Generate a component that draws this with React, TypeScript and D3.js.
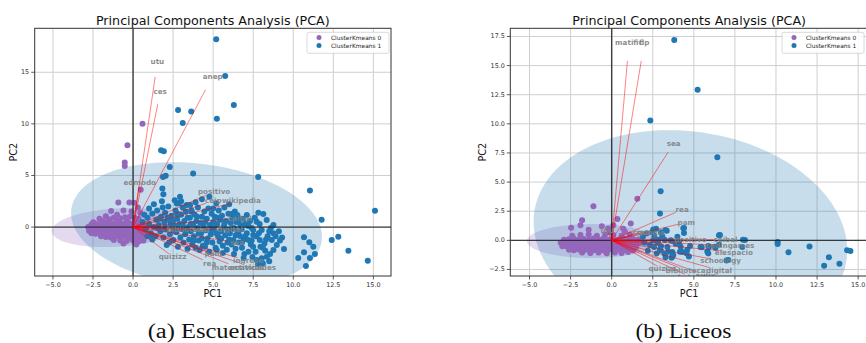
import React from 'react';
import * as d3 from 'd3';

type P = [number, number];

const clusterNames = ['ClusterKmeans 0', 'ClusterKmeans 1'];
const xTicks = [-5, -2.5, 0, 2.5, 5, 7.5, 10, 12.5, 15];
const yTicksEscuelas = [0, 5, 10, 15];
const yTicksLiceos = [-2.5, 0, 2.5, 5, 7.5, 10, 12.5, 15, 17.5];

// Escuelas, cluster 0 (purple)
const escuelasC0: P[] = [
  [-0.52, 6.25], [-0.52, 5.92], [-0.35, 7.94], [0.59, 10.0], [0.48, 3.62], [-0.92, 2.39], [-0.23, 2.39],
  [0.06, 2.35], [-1.37, 1.55], [-2.48, 0.46], [-2.68, -0.22], [0.3, 1.9], [-0.6, 1.6], [-1.0, 1.2],
  [-1.7, 1.05], [0.45, 1.4], [-0.1, 1.5], [-2.1, 0.8],
  [-1.9, 0.6], [-1.5, 0.75], [-1.2, 0.9], [-0.8, 0.85], [-0.5, 0.95], [-0.2, 1.0], [0.1, 0.9], [0.35, 0.8],
  [-1.0, 0.6], [-0.4, 0.6], [0.2, 0.55], [-1.6, 0.5],
  [-2.6, 0.25], [-2.3, 0.3], [-2.0, 0.35], [-1.7, 0.3], [-1.4, 0.4], [-1.1, 0.35], [-0.8, 0.4], [-0.55, 0.3],
  [-0.3, 0.45], [0.0, 0.35], [0.3, 0.3], [0.55, 0.4],
  [-2.8, 0.0], [-2.55, -0.05], [-2.3, 0.05], [-2.05, -0.02], [-1.8, 0.08], [-1.55, 0.0], [-1.3, 0.1],
  [-1.05, -0.05], [-0.8, 0.05], [-0.55, 0.0], [-0.3, 0.1], [-0.05, -0.05], [0.2, 0.05], [0.45, 0.0], [0.7, 0.1],
  [-2.75, -0.35], [-2.5, -0.3], [-2.25, -0.38], [-2.0, -0.3], [-1.75, -0.4], [-1.5, -0.3], [-1.25, -0.35],
  [-1.0, -0.28], [-0.75, -0.4], [-0.5, -0.3], [-0.25, -0.35], [0.0, -0.3], [0.25, -0.4], [0.5, -0.3], [0.75, -0.35],
  [-2.6, -0.6], [-2.35, -0.65], [-2.1, -0.58], [-1.85, -0.68], [-1.6, -0.6], [-1.35, -0.7], [-1.1, -0.62],
  [-0.85, -0.7], [-0.6, -0.6], [-0.35, -0.7], [-0.1, -0.62], [0.15, -0.7], [0.4, -0.6], [0.65, -0.7],
  [-2.0, -0.9], [-1.7, -0.95], [-1.4, -1.0], [-1.1, -0.92], [-0.8, -1.0], [-0.5, -0.95], [-0.2, -1.05],
  [0.1, -0.95], [0.4, -1.05], [0.7, -0.95],
  [-1.2, -1.25], [-0.8, -1.3], [-0.4, -1.35], [0.0, -1.3], [0.35, -1.4], [0.65, -1.3], [-0.6, -1.6], [0.2, -1.7],
];

// Escuelas, cluster 1 (blue)
const escuelasC1: P[] = [
  [5.19, 18.19], [5.75, 14.65], [6.29, 11.83], [2.81, 11.34], [3.63, 11.2], [3.1, 10.08], [5.23, 10.5],
  [1.75, 7.45], [1.92, 7.35], [2.29, 5.82], [3.75, 5.18], [7.81, 4.85], [11.04, 3.55], [11.77, 0.7],
  [15.1, 1.58], [14.65, -3.26], [13.44, -2.29], [12.81, -0.93], [12.4, -1.25], [11.04, -3.0], [11.35, -2.6],
  [11.25, -1.9], [11.0, -1.48], [10.67, -0.99], [10.67, -2.45], [10.31, -3.0], [10.79, -3.78], [9.42, -2.12],
  [9.17, -1.31], [1.83, 3.75], [1.89, 3.19], [2.04, 4.98], [1.87, 4.85], [2.93, 2.93], [2.73, 2.29],
  [3.56, 2.13], [3.66, 1.48], [4.76, 2.95],
  [0.6, 0.5], [0.8, -0.2], [0.9, 0.9], [1.0, 0.3], [1.1, -0.6], [1.2, 1.3], [1.3, 0.0], [1.4, -0.9], [1.45, 0.7],
  [0.7, 1.2], [1.0, 1.8], [1.3, 2.2], [1.5, 1.6], [0.9, -0.9], [1.2, -1.2], [1.17, -0.77],
  [1.6, 0.2], [1.7, -0.4], [1.75, 1.0], [1.8, 2.5], [1.9, -1.0], [1.95, 0.5], [2.0, 1.4], [2.05, -0.2],
  [2.1, -1.74], [2.15, 0.9], [2.2, 2.0], [2.3, -0.7], [2.35, 0.3], [2.4, 1.1], [2.45, -1.3], [2.5, 0.6],
  [1.85, 1.9], [2.25, -1.5],
  [2.52, -1.26], [2.6, 0.1], [2.65, 1.6], [2.7, -0.5], [2.75, 0.8], [2.8, -1.9], [2.85, 2.3], [2.9, 0.3],
  [2.95, -1.0], [3.0, 1.2], [3.05, -0.2], [3.1, 1.9], [3.15, -1.5], [3.2, 0.6], [3.25, -0.7], [3.3, 1.5],
  [3.35, 2.13], [3.4, -2.1], [3.45, 0.0], [3.5, -1.2], [2.6, 2.6], [3.0, 2.5],
  [3.55, 0.9], [3.6, -0.4], [3.65, 1.6], [3.7, -1.7], [3.75, 0.3], [3.8, -0.9], [3.85, 1.2], [3.9, -2.0],
  [3.95, 0.6], [4.0, -0.1], [4.05, 1.9], [4.1, -1.3], [4.16, -2.23], [4.2, 0.4], [4.25, -0.6], [4.3, 1.0],
  [4.35, -1.8], [4.4, 0.1], [4.45, 1.5], [4.49, -1.9], [3.9, 2.4], [4.3, 2.7],
  [4.55, -0.3], [4.6, 0.8], [4.65, -1.1], [4.7, 1.8], [4.75, -2.4], [4.8, 0.2], [4.85, -0.7], [4.9, 1.3],
  [4.95, -1.5], [5.0, 0.5], [5.05, -0.1], [5.1, 1.0], [5.15, -2.0], [5.22, -2.23], [5.25, 0.3], [5.3, -0.9],
  [5.35, 1.6], [5.4, -1.4], [5.45, 0.7], [5.5, -0.4], [5.2, 2.3],
  [5.55, 1.1], [5.6, -1.8], [5.65, 0.0], [5.7, 1.9], [5.75, -0.8], [5.8, 0.6], [5.85, -2.2], [5.9, -0.3],
  [5.95, 1.3], [6.0, -1.2], [6.04, -0.61], [6.1, 0.4], [6.15, -1.7], [6.2, 0.9], [6.26, -1.26], [6.3, -0.1],
  [6.35, 1.5], [6.4, -2.1], [6.45, 0.5], [6.51, 1.16], [6.0, 2.2],
  [6.55, -0.5], [6.6, -1.5], [6.67, -0.87], [6.7, 0.2], [6.78, -0.22], [6.8, -2.0], [6.85, 0.8], [6.9, -1.2],
  [6.95, -2.6], [7.0, 0.3], [7.1, 1.16], [7.1, -0.6], [7.2, -1.26], [7.2, -2.39], [7.3, 0.6], [7.35, -1.7],
  [7.4, -0.1], [7.45, -2.9], [7.5, -0.29], [7.5, -0.77], [7.5, -1.9],
  [7.6, 0.9], [7.65, -2.4], [7.72, 0.51], [7.72, -3.19], [7.82, 1.38], [7.85, -0.6], [7.91, -1.26],
  [7.95, -1.9], [8.03, -0.29], [8.03, -3.03], [8.13, 1.26], [8.2, -1.6], [8.25, -2.3], [8.34, 0.68],
  [8.35, -2.87], [8.4, -0.9], [8.55, -2.61], [8.6, -0.1], [8.66, -1.26], [8.76, 0.19], [8.76, -0.61],
  [8.76, -2.23], [8.97, -1.74], [9.1, -0.4], [9.3, -1.0], [8.5, -3.3], [8.1, -3.5], [7.8, -3.6],
  [1.55, -0.1], [1.65, 0.8], [2.0, 0.0], [2.2, 0.7], [2.55, -0.3], [2.75, 1.3], [3.1, 0.2], [3.3, -0.4],
  [3.4, 0.9], [3.6, 0.3], [3.8, -1.3], [4.0, 1.0], [4.1, -0.6], [4.3, -1.1], [4.5, 0.5], [4.6, -1.5],
  [4.9, -0.3], [5.0, 1.8], [5.2, -0.6], [5.3, 0.9], [5.5, -1.1], [5.7, 0.3], [5.9, -1.5], [6.1, -0.2],
  [6.2, 1.3], [6.4, -0.8], [6.6, 0.7], [6.8, -1.5], [7.0, -0.9], [7.2, 0.1], [7.4, -1.3], [7.7, -0.9],
  [7.9, 0.3], [8.1, -2.0], [8.3, -1.2], [8.5, -0.4], [8.9, -0.9], [6.9, -3.0], [6.3, -2.6], [5.6, -2.5],
];

// Liceos, cluster 0 (purple)
const liceosC0: P[] = [
  [-1.11, 2.93], [-1.8, 1.72], [-1.9, 1.29], [-2.47, 1.09], [1.56, 3.56], [0.35, 1.84], [1.16, 1.44],
  [-0.22, 1.01], [-0.6, 1.2], [0.7, 1.0], [-1.4, 0.9], [0.1, 1.3],
  [-2.4, 0.4], [-1.9, 0.45], [-1.4, 0.5], [-0.9, 0.4], [-0.4, 0.5], [0.1, 0.45], [0.6, 0.4], [1.1, 0.5],
  [-0.1, 0.7], [0.8, 0.75],
  [-2.9, 0.05], [-2.6, 0.1], [-2.3, 0.15], [-2.0, 0.05], [-1.7, 0.12], [-1.4, 0.05], [-1.1, 0.15], [-0.8, 0.08],
  [-0.5, 0.15], [-0.2, 0.05], [0.1, 0.12], [0.4, 0.05], [0.7, 0.15], [1.0, 0.08], [1.3, 0.12], [1.6, 0.05],
  [-3.1, -0.2], [-2.8, -0.25], [-2.5, -0.18], [-2.2, -0.28], [-1.9, -0.2], [-1.6, -0.25], [-1.3, -0.18],
  [-1.0, -0.28], [-0.7, -0.2], [-0.4, -0.25], [-0.1, -0.18], [0.2, -0.28], [0.5, -0.2], [0.8, -0.25],
  [1.1, -0.18], [1.4, -0.28], [1.7, -0.2],
  [-3.0, -0.5], [-2.7, -0.55], [-2.4, -0.48], [-2.1, -0.58], [-1.8, -0.5], [-1.5, -0.55], [-1.2, -0.48],
  [-0.9, -0.58], [-0.6, -0.5], [-0.3, -0.55], [0.0, -0.48], [0.3, -0.58], [0.6, -0.5], [0.9, -0.55],
  [1.2, -0.48], [1.5, -0.58],
  [-2.6, -0.8], [-2.3, -0.85], [-2.0, -0.78], [-1.7, -0.88], [-1.4, -0.8], [-1.1, -0.85], [-0.8, -0.78],
  [-0.5, -0.88], [-0.2, -0.8], [0.1, -0.85], [0.4, -0.78], [0.7, -0.88], [1.0, -0.8], [1.3, -0.85],
  [-1.8, -1.05], [-1.3, -1.1], [-0.8, -1.05], [-0.3, -1.12], [0.2, -1.05], [0.6, -1.1], [1.0, -1.0],
];

// Liceos, cluster 1 (blue)
const liceosC1: P[] = [
  [3.81, 17.2], [5.23, 12.93], [2.35, 10.28], [6.43, 7.13], [2.98, 4.22], [2.94, 2.3], [4.4, 1.06],
  [4.4, 0.63], [6.53, 0.43], [7.99, 0.06], [10.1, -0.15], [10.1, -0.32], [10.76, -1.03], [12.04, -0.52],
  [13.22, -1.44], [12.93, -2.18], [13.86, -2.0], [14.33, -0.86], [14.53, -0.92], [7.95, -0.58],
  [5.82, -0.95], [5.41, -0.58], [5.92, -0.58], [6.32, -0.63], [6.53, -0.37], [6.99, -1.72], [4.7, -1.38],
  [4.3, -1.01], [3.69, -1.01], [3.69, -1.38], [3.39, -0.58], [2.98, -0.86], [2.58, -0.58], [2.47, 0.72],
  [3.28, 0.86], [4.1, -0.15], [3.59, 0.0], [2.52, 0.0], [3.08, 0.35], [3.89, -0.29], [3.22, -1.15],
  [3.28, -1.44], [2.53, 0.94], [3.35, 0.82], [4.36, 1.03], [6.59, 0.45], [8.11, 0.03], [5.48, -0.6],
  [5.88, -0.49], [6.29, -0.55], [5.88, -1.12], [4.56, -1.12], [4.16, -0.98], [3.75, -1.26], [3.45, -0.98],
  [2.94, -0.77], [2.74, -1.12], [7.1, -1.69], [3.24, 0.03], [3.65, -0.03], [4.77, -0.49], [3.65, -1.49],
  [2.13, 0.6], [2.33, -0.4], [2.0, -0.2], [1.9, 0.3], [2.2, -0.9], [2.6, 0.4], [2.8, -0.2], [3.0, -0.5],
  [2.7, 1.0], [4.0, 0.3], [4.2, -0.55], [4.6, -0.8], [3.0, 0.7], [2.85, 0.05],
];

// loading vectors (arrow ends) and variable names
const escuelasVars = ['utu', 'ces', 'anep', 'edmodo', 'positivo', 'ceip', 'wikipedia', 'ceibal', 'biblioteca',
  'crea', 'digital', 'sea', 'pam', 'quizizz', 'rea', 'ingreso', 'matematicas', 'actividades'];
const escuelasCoef: P[] = [
  [1.38, 14.55], [1.54, 11.9], [4.52, 13.3], [0.38, 3.95], [4.6, 3.1], [4.55, 2.3], [6.15, 2.3], [6.06, 0.78],
  [3.03, -0.25], [3.85, -0.25], [5.5, -0.25], [5.9, -1.35], [4.55, -2.3], [2.24, -2.6], [4.35, -3.17],
  [6.53, -2.97], [5.95, -3.55], [6.8, -3.55],
];
const liceosVars = ['matific', 'flp', 'sea', 'rea', 'pam', 'utu', 'crea', 'google', 'positivo', 'ceibal',
  'codingames', 'elespacio', 'schoology', 'quizizz', 'biblioteca', 'digital', 'kahoot', 'aulix'];
const liceosCoef: P[] = [
  [0.96, 15.4], [1.8, 15.4], [3.43, 7.56], [3.9, 2.4], [4.13, 1.41], [-0.24, 0.73], [1.64, 0.65], [2.18, 0.65],
  [4.36, 0.05], [6.3, 0.05], [6.55, -0.41], [6.76, -0.91], [6.03, -1.59], [2.8, -2.23], [4.09, -2.33],
  [5.94, -2.33], [4.45, -2.9], [5.18, -2.73],
];

// confidence ellipses per cluster: [cx, cy, semi-major, semi-minor, angle in degrees]
const escuelasEllipses: number[][] = [[-1.0, -0.05, 4.1, 1.85, 6], [3.96, 0.2, 8.02, 5.84, -18.4]];
const liceosEllipses: number[][] = [[-1.2, -0.06, 3.96, 1.46, 0], [4.79, 0.38, 9.96, 8.62, -34.8]];

const COLORS = ['#9467bd', '#1f77b4'];
const FONT = 'DejaVu Sans, sans-serif';

type PanelProps = {
  id: string;
  frame: { x0: number; x1: number; y0: number; y1: number };
  xDomain: [number, number];
  yDomain: [number, number];
  yTicks: number[];
  ylabelOffset: number;
  clusters: P[][];
  ellipses: number[][];
  vars: string[];
  coefs: P[];
  caption: string;
  captionWidth: number;
};

function Panel({ id, frame, xDomain, yDomain, yTicks, ylabelOffset, clusters, ellipses, vars, coefs, caption, captionWidth }: PanelProps) {
  const x = d3.scaleLinear().domain(xDomain).range([frame.x0, frame.x1]);
  const y = d3.scaleLinear().domain(yDomain).range([frame.y1, frame.y0]);
  const cxm = (frame.x0 + frame.x1) / 2;
  const angles = d3.range(0, 361, 3).map((d) => (d * Math.PI) / 180);
  const line = d3.line();
  const ellipsePath = (e: number[]) => {
    const [cx, cy, a, b, deg] = e;
    const th = (deg * Math.PI) / 180;
    const pts = angles.map((t) => [
      x(cx + a * Math.cos(t) * Math.cos(th) - b * Math.sin(t) * Math.sin(th)),
      y(cy + a * Math.cos(t) * Math.sin(th) + b * Math.sin(t) * Math.cos(th)),
    ] as [number, number]);
    return line(pts) + 'Z';
  };
  const fmt = d3.format('.1f');
  const legX = Math.min(frame.x1, 866) - 84;

  return (
    <g>
      <defs>
        <clipPath id={id}>
          <rect x={frame.x0} y={frame.y0} width={frame.x1 - frame.x0} height={frame.y1 - frame.y0} />
        </clipPath>
      </defs>
      <text x={cxm} y={25} textAnchor="middle" fontFamily={FONT} fontSize={12.7} fill="#111">
        Principal Components Analysis (PCA)
      </text>
      <rect x={frame.x0} y={frame.y0} width={frame.x1 - frame.x0} height={frame.y1 - frame.y0} fill="#fff" />
      <g clipPath={`url(#${id})`}>
        {xTicks.map((t) => (
          <line key={'gx' + t} x1={x(t)} x2={x(t)} y1={frame.y0} y2={frame.y1} stroke="#cfcfcf" strokeWidth={1} />
        ))}
        {yTicks.map((t) => (
          <line key={'gy' + t} x1={frame.x0} x2={frame.x1} y1={y(t)} y2={y(t)} stroke="#cfcfcf" strokeWidth={1} />
        ))}
        {ellipses.map((e, i) => (
          <path key={'e' + i} d={ellipsePath(e)} fill={COLORS[i]} fillOpacity={0.25} stroke="none" />
        ))}
        {clusters.map((pts, i) =>
          pts.map((p, j) => <circle key={`p${i}-${j}`} cx={x(p[0])} cy={y(p[1])} r={3} fill={COLORS[i]} />)
        )}
        <line x1={x(0)} x2={x(0)} y1={frame.y0} y2={frame.y1} stroke="#222" strokeWidth={1.4} strokeOpacity={0.85} />
        <line x1={frame.x0} x2={frame.x1} y1={y(0)} y2={y(0)} stroke="#222" strokeWidth={1.4} strokeOpacity={0.85} />
        {coefs.map((c, i) => (
          <line key={'a' + i} x1={x(0)} y1={y(0)} x2={x(c[0])} y2={y(c[1])} stroke="#ff0000" strokeOpacity={0.55} strokeWidth={0.9} />
        ))}
        {coefs.map((c, i) => (
          <text key={'t' + i} x={x(c[0] * 1.1)} y={y(c[1] * 1.1)} textAnchor="middle" dominantBaseline="central"
            fontFamily={FONT} fontSize={7.2} fontWeight="bold" fill="#808080" fillOpacity={0.9}>
            {vars[i]}
          </text>
        ))}
      </g>
      <rect x={frame.x0} y={frame.y0} width={frame.x1 - frame.x0} height={frame.y1 - frame.y0} fill="none" stroke="#333" strokeWidth={1} />
      {xTicks.map((t) => (
        <g key={'tx' + t}>
          <line x1={x(t)} x2={x(t)} y1={frame.y1} y2={frame.y1 + 3.5} stroke="#333" strokeWidth={0.8} />
          <text x={x(t)} y={frame.y1 + 10.5} textAnchor="middle" fontFamily={FONT} fontSize={6.4} fill="#333">
            {t < 0 ? '\u2212' + fmt(-t) : fmt(t)}
          </text>
        </g>
      ))}
      {yTicks.map((t) => (
        <g key={'ty' + t}>
          <line x1={frame.x0 - 3.5} x2={frame.x0} y1={y(t)} y2={y(t)} stroke="#333" strokeWidth={0.8} />
          <text x={frame.x0 - 5.5} y={y(t)} textAnchor="end" dominantBaseline="central" fontFamily={FONT} fontSize={6.4} fill="#333">
            {id === 'clipA' ? String(t) : t < 0 ? '\u2212' + fmt(-t) : fmt(t)}
          </text>
        </g>
      ))}
      <text x={cxm} y={frame.y1 + 20.7} textAnchor="middle" fontFamily={FONT} fontSize={9.6} fill="#111">PC1</text>
      <text transform={`translate(${frame.x0 - ylabelOffset},${(frame.y0 + frame.y1) / 2}) rotate(-90)`} textAnchor="middle"
        dominantBaseline="central" fontFamily={FONT} fontSize={9.6} fill="#111">PC2</text>
      <g>
        <rect x={legX} y={frame.y0 + 4} width={82} height={21} rx={2} fill="#fff" fillOpacity={0.85} stroke="#d0d0d0" strokeWidth={0.8} />
        {clusterNames.map((n, i) => (
          <g key={n}>
            <circle cx={legX + 12} cy={frame.y0 + 9.3 + i * 8} r={2.5} fill={COLORS[i]} />
            <text x={legX + 24} y={frame.y0 + 9.3 + i * 8} dominantBaseline="central" fontFamily={FONT} fontSize={5.9} fill="#222">{n}</text>
          </g>
        ))}
      </g>
      <text x={cxm - 5.7} y={337.5} textAnchor="middle" fontFamily="Liberation Serif, serif" fontSize={20}
        textLength={captionWidth} lengthAdjust="spacingAndGlyphs" fill="#111">
        {caption}
      </text>
    </g>
  );
}

export default function App() {
  return (
    <svg width={866} height={343} style={{ position: 'absolute', left: 0, top: 0, background: '#fff' }}>
      <Panel id="clipA" frame={{ x0: 34.7, x1: 391, y0: 28.3, y1: 276 }} xDomain={[-6.14, 16.1]} yDomain={[-4.74, 19.26]}
        yTicks={yTicksEscuelas} ylabelOffset={21.4} clusters={[escuelasC0, escuelasC1]} ellipses={escuelasEllipses}
        vars={escuelasVars} coefs={escuelasCoef} caption="(a) Escuelas" captionWidth={119} />
      <Panel id="clipB" frame={{ x0: 510.3, x1: 868, y0: 28.3, y1: 276 }} xDomain={[-6.17, 15.6]} yDomain={[-3.06, 18.2]}
        yTicks={yTicksLiceos} ylabelOffset={28.3} clusters={[liceosC0, liceosC1]} ellipses={liceosEllipses}
        vars={liceosVars} coefs={liceosCoef} caption="(b) Liceos" captionWidth={96} />
    </svg>
  );
}
